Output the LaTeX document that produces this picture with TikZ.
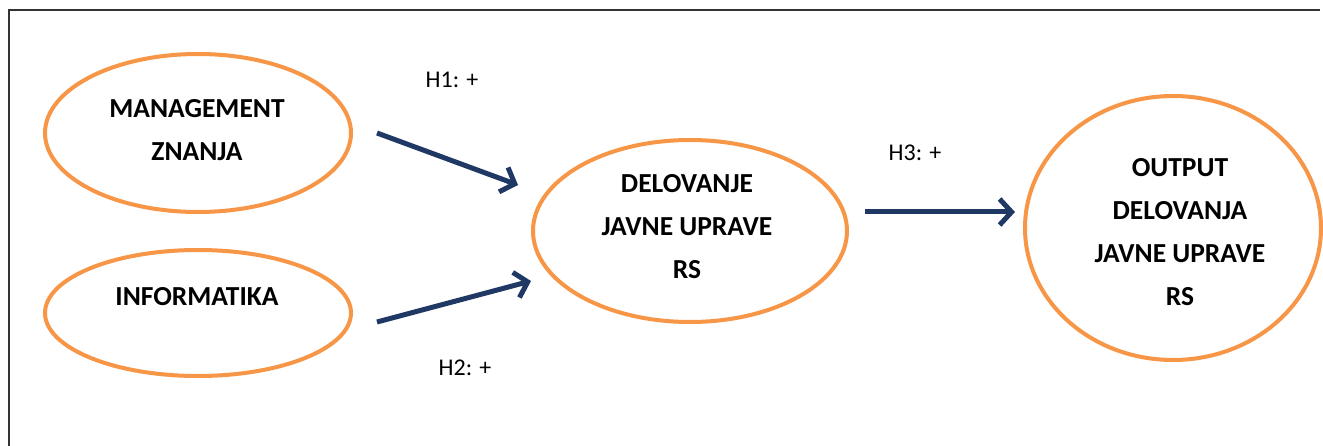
\documentclass[tikz,border=0pt]{standalone}
\usepackage{fontspec}
\setmainfont{Carlito}
\usetikzlibrary{arrows.meta,shapes.geometric,calc}
\definecolor{ringorange}{HTML}{F79646}
\definecolor{arrownavy}{HTML}{1F3864}
\definecolor{framegray}{HTML}{333333}
\tikzset{
  ring/.style={draw=ringorange, line width=4pt, ellipse, inner sep=0pt},
  ringtext/.style={font=\fontsize{27.5}{43}\selectfont\bfseries, align=center, text=black},
  hyp/.style={font=\fontsize{24}{28}\selectfont, text=black},
  arr/.style={draw=arrownavy, line width=5pt, -{Straight Barb[length=12pt,width=26pt]}}
}
\begin{document}
\begin{tikzpicture}[x=1pt,y=-1pt]
\fill[white] (0,0) rectangle (1323,446);
\useasboundingbox (0,0) rectangle (1323,446);
\draw[framegray, line width=2pt] (9,446) -- (9,10) -- (1320,10);
% ellipses
\node[ring, minimum width=306pt, minimum height=158pt] (m) at (198,133) {};
\node[ring, minimum width=306pt, minimum height=126pt] (i) at (198,313) {};
\node[ring, minimum width=314pt, minimum height=182pt] (d) at (690,231) {};
\node[ring, minimum width=296pt, minimum height=264pt] (o) at (1173,228) {};
% texts
\node[ringtext] (mt) at (197,130) {MANAGEMENT\\ZNANJA};
\node[ringtext] (it) at (197,297) {INFORMATIKA};
\node[ringtext] (dt) at (687,227) {DELOVANJE\\JAVNE UPRAVE\\RS};
\node[ringtext] (ot) at (1180,232) {OUTPUT\\DELOVANJA\\JAVNE UPRAVE\\RS};
% labels
\node[hyp] (h1) at (452,80) {H1: +};
\node[hyp] (h2) at (465,368) {H2: +};
\node[hyp] (h3) at (915,153) {H3: +};
% arrows
\coordinate (a1s) at ($(m.east)+(24,0)$);
\coordinate (a1e) at ($(d.west)+(-13,-46)$);
\coordinate (a2s) at ($(i.east)+(24,9)$);
\coordinate (a2e) at ($(d.west)+(0,50)$);
\coordinate (a3s) at ($(d.east)+(16,-19)$);
\coordinate (a3e) at ($(o.west)+(-8,-16)$);
\draw[arr] (a1s) -- (a1e);
\draw[arr] (a2s) -- (a2e);
\draw[arr] (a3s) -- (a3e);
\end{tikzpicture}
\end{document}
